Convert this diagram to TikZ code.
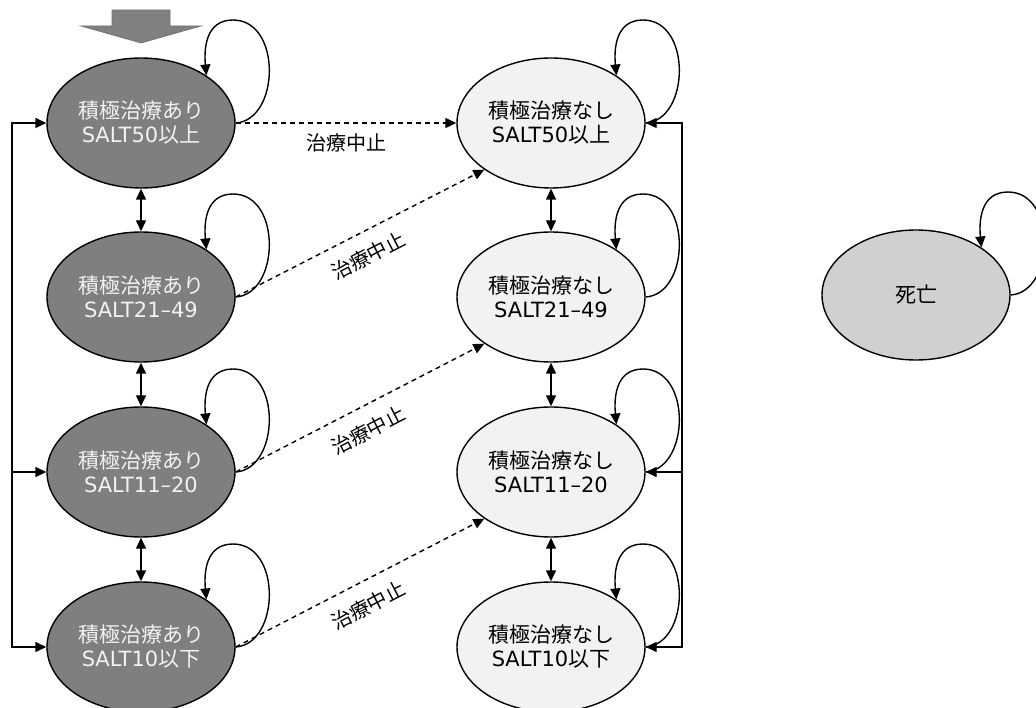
\documentclass[tikz,border=0pt]{standalone}
\usepackage{fontspec}
\setmainfont{DejaVu Sans}
\newfontfamily\jp{Noto Sans CJK JP}
\usetikzlibrary{arrows.meta,calc,shapes.geometric}
\definecolor{actfill}{HTML}{7F7F7F}
\definecolor{acttext}{HTML}{F2F2F2}
\definecolor{pasfill}{HTML}{F2F2F2}
\definecolor{deadfill}{HTML}{D0D0D0}
\definecolor{startfill}{HTML}{808080}

% self-transition loop on the upper right of a state
\newcommand\selfloop[1]{%
  \draw[link] (#1.east)
    .. controls ($(#1.center)+(139,-3)$) and ($(#1.center)+(141,-103)$) .. ($(#1.center)+(92,-103)$)
    .. controls ($(#1.center)+(64,-103)$) and ($(#1.center)+(63,-73)$) .. (#1.36);}

\begin{document}
\begin{tikzpicture}[x=1pt,y=-1pt,
  every node/.style={inner sep=0pt},
  state/.style={ellipse,draw=black,line width=1.4pt,minimum width=188pt,
    minimum height=130pt,align=center,font=\fontsize{21}{24}\selectfont},
  active/.style={state,fill=actfill,text=acttext},
  passive/.style={state,fill=pasfill,text=black},
  dead/.style={state,fill=deadfill,text=black},
  link/.style={line width=1.4pt,-{Triangle[length=11pt,width=10pt]}},
  both/.style={line width=1.4pt,{Triangle[length=11pt,width=10pt]}-{Triangle[length=11pt,width=10pt]}},
  quit/.style={link,dash pattern=on 5pt off 4pt},
  lbl/.style={font=\jp\fontsize{20}{24}\selectfont,text=black}
]
\useasboundingbox (0,0) rectangle (1036,708);
\fill[white] (0,0) rectangle (1036,708);

% entry arrow
\draw[fill=startfill,draw=black!55,line width=0.7pt]
  (112,10) -- (170,10) -- (170,26) -- (201,26) -- (141,43) -- (81,26) -- (112,26) -- cycle;

% states with active treatment
\node[active] (L1) at (141,123) {{\jp 積極治療あり}\\SALT50{\jp 以上}};
\node[active] (L2) at (141,297) {{\jp 積極治療あり}\\SALT21–49};
\node[active] (L3) at (141,472) {{\jp 積極治療あり}\\SALT11–20};
\node[active] (L4) at (141,647) {{\jp 積極治療あり}\\SALT10{\jp 以下}};

% states without active treatment
\node[passive] (R1) at (551,123) {{\jp 積極治療なし}\\SALT50{\jp 以上}};
\node[passive] (R2) at (551,297) {{\jp 積極治療なし}\\SALT21–49};
\node[passive] (R3) at (551,472) {{\jp 積極治療なし}\\SALT11–20};
\node[passive] (R4) at (551,647) {{\jp 積極治療なし}\\SALT10{\jp 以下}};

% death
\node[dead] (D) at (916,295) {{\jp 死亡}};

% self transitions
\selfloop{L1}\selfloop{L2}\selfloop{L3}\selfloop{L4}
\selfloop{R1}\selfloop{R2}\selfloop{R3}\selfloop{R4}
\selfloop{D}

% transitions between neighbouring levels
\draw[both] (L1.south) -- (L2.north);
\draw[both] (L2.south) -- (L3.north);
\draw[both] (L3.south) -- (L4.north);
\draw[both] (R1.south) -- (R2.north);
\draw[both] (R2.south) -- (R3.north);
\draw[both] (R3.south) -- (R4.north);

% left bus
\coordinate (ltop) at (12,123);
\coordinate (lbot) at (12,647);
\draw[link] (lbot) |- (L1.west);
\draw[link] (ltop) |- (L4.west);
\draw[link] (L3.west -| ltop) -- (L3.west);

% right bus
\coordinate (rtop) at (682,123);
\coordinate (rbot) at (682,647);
\draw[link] (rbot) |- (R1.east);
\draw[link] (rtop) |- (R4.east);
\draw[link] (R3.east -| rtop) -- (R3.east);

% treatment stopped
\draw[quit] (L1.east) -- (R1.west) node[midway,below=10pt,lbl] {治療中止};
\draw[quit] (L2.east) -- (R1.215) node[pos=0.49,sloped,below=14pt,lbl] {治療中止};
\draw[quit] (L3.east) -- (R2.215) node[pos=0.49,sloped,below=14pt,lbl] {治療中止};
\draw[quit] (L4.east) -- (R3.215) node[pos=0.49,sloped,below=14pt,lbl] {治療中止};
\end{tikzpicture}
\end{document}
